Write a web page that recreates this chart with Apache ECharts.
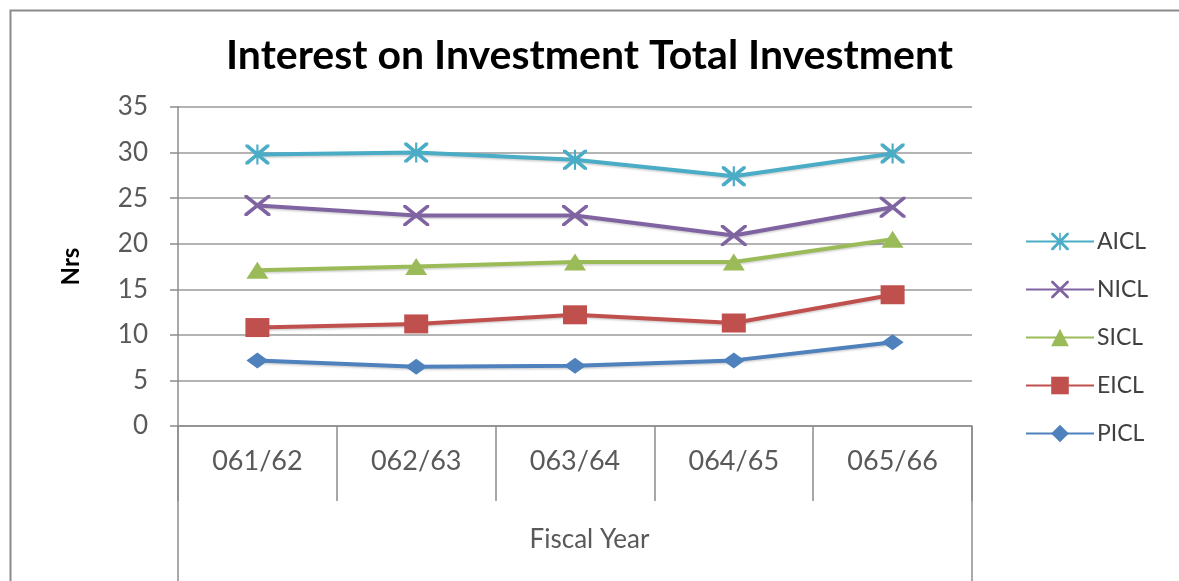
<!DOCTYPE html>
<html>
<head>
<meta charset="utf-8">
<script src="https://cdn.jsdelivr.net/npm/echarts@6/dist/echarts.min.js"></script>
<style>
  html, body { margin: 0; padding: 0; background: #ffffff; }
  #chart { width: 1179px; height: 581px; }
</style>
</head>
<body>
<div id="chart"></div>
<script>
// Fiscal years on the category axis
const years = ['061/62', '062/63', '063/64', '064/65', '065/66'];

// Interest on investment / total investment, per company (Nrs)
const aicl = [29.8, 30.0, 29.2, 27.4, 29.9];
const nicl = [24.2, 23.1, 23.1, 20.9, 24.0];
const sicl = [17.1, 17.5, 18.0, 18.0, 20.5];
const eicl = [10.8, 11.2, 12.2, 11.3, 14.4];
const picl = [7.2, 6.5, 6.6, 7.2, 9.2];

const yTicks = [0, 5, 10, 15, 20, 25, 30, 35];

const FONT = 'Lato, "Open Sans", sans-serif';
const GRID = { left: 178, right: 207, top: 107, bottom: 155 };
const W = 1179, H = 581;

// Asterisk-style marker: an X crossed by a vertical bar
const starPath = 'path://M0,0 L2.4,0 L10,7.6 L17.6,0 L20,0 L20,2.4 L12.4,10 L20,17.6 L20,20 L17.6,20 L10,12.4 L2.4,20 L0,20 L0,17.6 L7.6,10 L0,2.4 Z M9.1,0 L10.9,0 L10.9,20 L9.1,20 Z';
const crossPath = 'path://M0,0 L2.2,0 L10,7.8 L17.8,0 L20,0 L20,2.2 L12.2,10 L20,17.8 L20,20 L17.8,20 L10,12.2 L2.2,20 L0,20 L0,17.8 L7.8,10 L0,2.2 Z';

function lineSeries(name, data, color, symbol, size) {
  return {
    name: name,
    type: 'line',
    data: data,
    symbol: symbol,
    symbolSize: size,
    showAllSymbol: true,
    lineStyle: { color: color, width: 4, shadowColor: 'rgba(0,0,0,0.18)', shadowBlur: 2, shadowOffsetY: 1.5 },
    itemStyle: { color: color, borderWidth: 0 },
    z: 3
  };
}

const chart = echarts.init(document.getElementById('chart'), null, { renderer: 'canvas' });

const plotLeft = GRID.left;
const plotRight = W - GRID.right;
const axisY = H - GRID.bottom;

chart.setOption({
  animation: false,
  backgroundColor: '#ffffff',
  title: {
    text: 'Interest on Investment Total Investment',
    left: 'center',
    top: 30,
    textStyle: { fontFamily: FONT, fontWeight: 'bold', fontSize: 41, color: '#000000' }
  },
  legend: {
    orient: 'vertical',
    left: 1020,
    top: 225,
    itemWidth: 68,
    itemHeight: 22,
    itemGap: 25,
    itemStyle: { borderWidth: 0 },
    textStyle: { fontFamily: FONT, fontSize: 23, color: '#404040', padding: [0, 0, 0, -2] },
    data: ['AICL', 'NICL', 'SICL', 'EICL', 'PICL']
  },
  grid: { left: GRID.left, right: GRID.right, top: GRID.top, bottom: GRID.bottom, containLabel: false },
  xAxis: {
    type: 'category',
    data: years,
    boundaryGap: true,
    axisLine: { show: true, lineStyle: { color: '#8c8c8c', width: 1.5 } },
    axisTick: { show: true, length: 75, inside: false, lineStyle: { color: '#8c8c8c', width: 1.5 } },
    axisLabel: { fontFamily: FONT, fontSize: 27, color: '#595959', margin: 22 },
    splitLine: { show: false }
  },
  yAxis: {
    type: 'value',
    min: yTicks[0],
    max: yTicks[yTicks.length - 1],
    interval: 5,
    name: 'Nrs',
    nameLocation: 'middle',
    nameGap: 95,
    nameRotate: 90,
    nameTextStyle: { fontFamily: FONT, fontWeight: 'bold', fontSize: 24, color: '#000000' },
    axisLine: { show: true, lineStyle: { color: '#8c8c8c', width: 1.5 } },
    axisTick: { show: true, length: 8, inside: false, lineStyle: { color: '#8c8c8c', width: 1.5 } },
    axisLabel: { fontFamily: FONT, fontSize: 26, color: '#595959', margin: 30 },
    splitLine: { show: true, lineStyle: { color: '#9a9a9a', width: 1.5 } }
  },
  series: [
    lineSeries('AICL', aicl, '#4BACC6', starPath, [24, 20]),
    lineSeries('NICL', nicl, '#8064A2', crossPath, [26, 21]),
    lineSeries('SICL', sicl, '#9BBB59', 'triangle', [22, 17]),
    lineSeries('EICL', eicl, '#C0504D', 'rect', [24, 19]),
    lineSeries('PICL', picl, '#4F81BD', 'diamond', [22, 16])
  ],
  graphic: [
    // outer chart frame
    { type: 'rect', left: 8, top: 8, shape: { x: 0, y: 0, width: W + 10, height: H + 10 },
      style: { fill: 'none', stroke: '#8a8a8a', lineWidth: 2 }, silent: true },
    // long end bars of the category table
    { type: 'line', shape: { x1: plotLeft, y1: axisY, x2: plotLeft, y2: H }, style: { stroke: '#8c8c8c', lineWidth: 1.5 }, silent: true },
    { type: 'line', shape: { x1: plotRight, y1: axisY, x2: plotRight, y2: H }, style: { stroke: '#8c8c8c', lineWidth: 1.5 }, silent: true },
    // axis group title
    { type: 'text', left: 'center', top: 527,
      style: { text: 'Fiscal Year', x: 0, y: 0, fontFamily: FONT, fontSize: 26, fill: '#595959' } }
  ]
});
</script>
</body>
</html>
